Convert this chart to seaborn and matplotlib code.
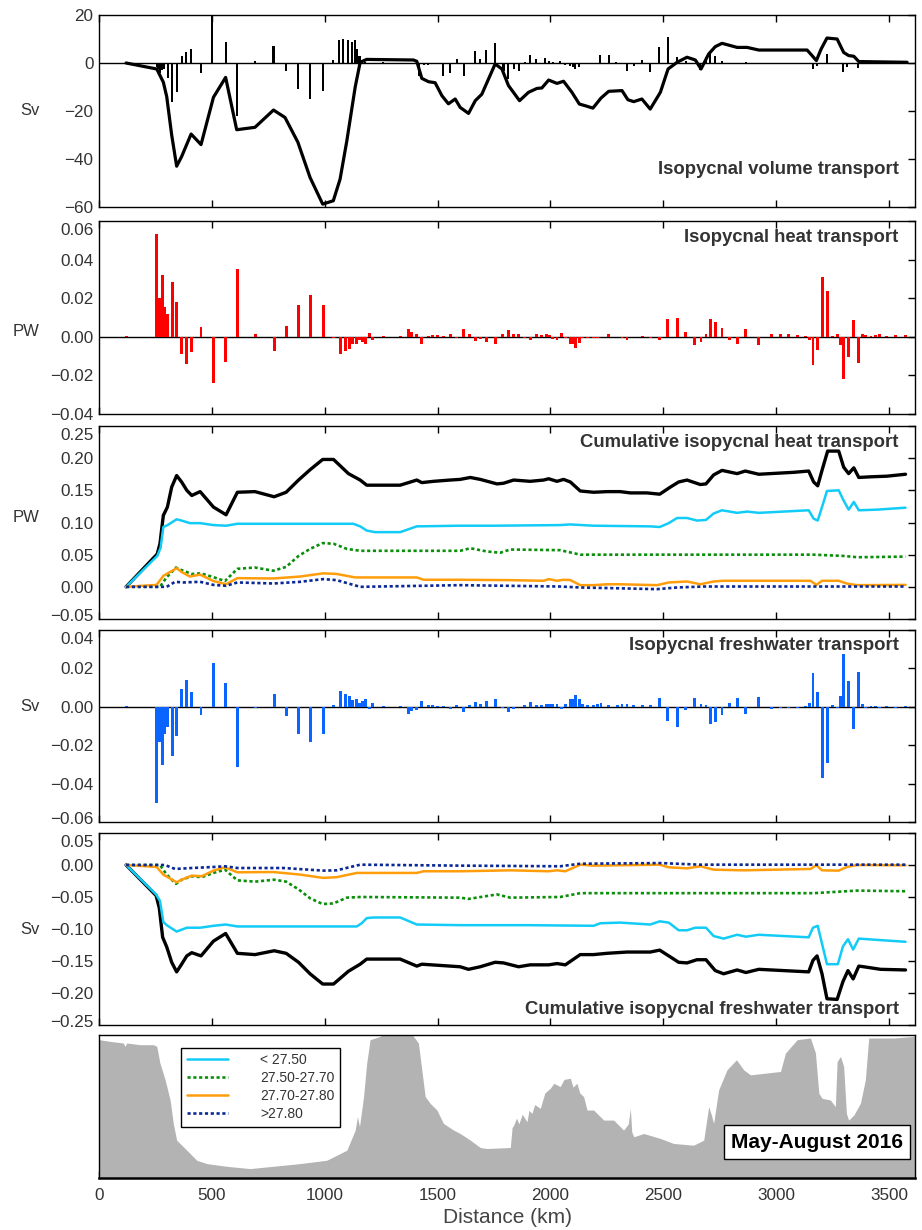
import numpy as np
import pandas as pd
import seaborn as sns
import matplotlib
matplotlib.use("Agg")
import matplotlib.pyplot as plt
from matplotlib.lines import Line2D
import matplotlib.transforms as mtransforms

# ---------------- data ----------------
# Panel 1: isopycnal volume transport (Sv)
vol_bar_km = [255, 263, 270, 279, 288, 304, 325, 344, 366, 386, 408, 452, 502, 561, 610, 691, 773, 827, 881, 935,
              991, 1038, 1065, 1083, 1102, 1120, 1135, 1145, 1154, 1165, 1180, 1260, 1418, 1440, 1457, 1475, 1526,
              1556, 1585, 1615, 1667, 1689, 1715, 1755, 1792, 1814, 1837, 1859, 1888, 1910, 1937, 1977, 1992, 2011,
              2043, 2066, 2088, 2100, 2110, 2125, 2145, 2190, 2221, 2258, 2290, 2339, 2368, 2405, 2442, 2479, 2519,
              2561, 2600, 2664, 2691, 2708, 2730, 2760, 2792, 2827, 2866, 2923, 3163, 3181, 3225, 3296, 3314, 3363]
vol_bar_sv = [-1.5, -2.5, -4.0, -3.0, -2.5, -6.4, -16.4, -12.2, 2.8, 4.7, 5.8, -4.3, 19.5, 8.6, -22.0, 0.8, 7.0,
              -3.5, -10.8, -15.2, -11.5, 1.25, 9.7, 10.0, 9.7, 8.6, 9.6, 5.8, 3.0, 1.2, 0.5, 0.3, -5.3, -0.8, -0.8,
              -0.5, -5.6, -4.2, 1.8, -5.6, 4.9, 1.7, 5.4, 8.3, -3.2, -6.7, -2.5, -3.5, 0.6, 3.3, 1.7, 2.1, 1.0, 0.4,
              0.8, -0.8, -1.2, -1.5, -2.5, -1.8, -0.6, -0.4, 3.3, 3.3, 0.4, -3.2, -1.1, 1.25, -3.9, 6.5, 11.0, 2.4,
              0.8, -2.8, 2.4, 3.75, 3.1, 1.0, -0.4, -0.4, 0.5, -0.4, -2.5, -1.1, 3.75, -3.9, -1.8, -2.2]
vol_cum_km = [120, 256, 285, 300, 322, 344, 366, 408, 452, 507, 561, 610, 691, 773, 824, 881, 935, 991, 1038, 1068,
              1098, 1135, 1157, 1186, 1393, 1408, 1430, 1460, 1489, 1519, 1548, 1578, 1600, 1637, 1667, 1696, 1755,
              1785, 1814, 1863, 1903, 1940, 1962, 1992, 2029, 2058, 2095, 2128, 2154, 2188, 2224, 2258, 2317, 2343,
              2369, 2405, 2442, 2487, 2521, 2561, 2605, 2642, 2667, 2701, 2730, 2760, 2827, 2871, 2923, 3137, 3159,
              3178, 3199, 3225, 3270, 3299, 3321, 3344, 3366, 3580]
vol_cum_sv = [0.0, -2.5, -8.0, -14.0, -30.0, -43.0, -39.0, -29.6, -34.0, -14.3, -6.0, -27.8, -26.8, -19.6, -22.7,
              -33.0, -47.7, -58.8, -57.4, -48.4, -32.4, -10.0, 0.3, 1.5, 1.25, 0.7, -6.4, -7.8, -8.2, -13.6, -17.0,
              -15.0, -18.5, -21.0, -15.7, -13.0, -0.4, -2.5, -9.4, -15.7, -12.2, -10.6, -10.4, -7.1, -8.5, -7.6,
              -12.2, -17.1, -17.8, -18.8, -14.6, -11.8, -11.5, -15.3, -16.1, -15.0, -19.2, -12.2, -2.5, 0.3, 2.4,
              1.25, -2.5, 3.75, 6.8, 8.2, 6.5, 6.5, 5.4, 5.4, 3.1, 1.0, 5.8, 10.4, 10.0, 4.4, 3.1, 2.8, 0.6, 0.3]

# Stations shared by heat and freshwater bars
stn_km = [120, 254, 267, 281, 291, 304, 325, 344, 366, 386, 411, 452, 507, 560, 613, 694, 776, 829, 884, 935, 994,
          1039, 1068, 1090, 1108, 1124, 1139, 1154, 1167, 1182, 1197, 1213, 1260, 1334, 1371, 1386, 1405, 1430,
          1460, 1479, 1500, 1526, 1556, 1585, 1615, 1642, 1667, 1692, 1716, 1755, 1789, 1814, 1837, 1859, 1884,
          1910, 1937, 1962, 1981, 1996, 2011, 2029, 2048, 2066, 2088, 2103, 2113, 2128, 2143, 2165, 2191, 2210,
          2224, 2258, 2295, 2317, 2339, 2368, 2408, 2442, 2482, 2519, 2561, 2599, 2639, 2667, 2689, 2711, 2733,
          2760, 2792, 2827, 2866, 2923, 2979, 3019, 3056, 3093, 3129, 3149, 3163, 3184, 3206, 3228, 3251, 3273,
          3285, 3299, 3321, 3344, 3363, 3381, 3396, 3420, 3440, 3459, 3490, 3530, 3573]
# Panel 2: isopycnal heat transport (PW)
heat_pw = [0.0003, 0.0533, 0.0199, 0.0321, 0.0152, 0.0117, 0.0283, 0.0178, -0.0089, -0.0140, -0.0080, 0.0052,
           -0.0241, -0.0128, 0.0353, 0.0017, -0.0075, 0.0058, 0.0164, 0.0217, 0.0164, -0.0005, -0.0089, -0.0072,
           -0.0061, -0.0037, -0.0037, -0.0019, -0.0028, -0.0035, 0.0021, -0.0016, 0.0002, 0.0002, 0.0042, 0.0026,
           0.0017, -0.0038, 0.0005, 0.0009, 0.0009, 0.0005, 0.0017, -0.0005, 0.0042, 0.0012, -0.0023, -0.0009,
           -0.0028, -0.0035, 0.0012, 0.0033, 0.0016, 0.0012, -0.0005, -0.0016, 0.0012, 0.0007, 0.0017, 0.0009,
           -0.0010, -0.0014, 0.0021, -0.0005, -0.0037, -0.0037, -0.0058, -0.0031, -0.0005, -0.0005, -0.0005,
           -0.0008, -0.0003, 0.0016, -0.0002, -0.0005, -0.0017, -0.0002, 0.0002, -0.0005, -0.0014, 0.0094, 0.0100,
           0.0026, -0.0040, -0.0026, 0.0017, 0.0094, 0.0079, 0.0044, -0.0017, -0.0037, 0.0038, -0.0040, 0.0016,
           0.0012, 0.0012, 0.0009, 0.0005, -0.0014, -0.0145, -0.0066, 0.0309, 0.0239, 0.0002, 0.0012, -0.0040,
           -0.0220, -0.0105, 0.0089, -0.0136, 0.0012, 0.0009, 0.0005, 0.0007, 0.0016, 0.0005, 0.0009, 0.0007]
# Panel 4: isopycnal freshwater transport (Sv)
fw_sv = [0.0005, -0.0499, -0.0183, -0.0303, -0.0140, -0.0106, -0.0256, -0.0152, 0.0091, 0.0140, 0.0079, -0.0043,
         0.0227, 0.0125, -0.0315, -0.0007, 0.0068, -0.0046, -0.0140, -0.0183, -0.0140, 0.0007, 0.0082, 0.0068,
         0.0056, 0.0036, 0.0039, 0.0022, 0.0031, 0.0043, -0.0012, 0.0021, 0.0002, 0.0002, -0.0038, -0.0024,
         -0.0015, 0.0031, 0.0007, 0.0007, 0.0005, 0.0004, -0.0012, 0.0010, -0.0029, 0.0007, 0.0027, 0.0017,
         0.0031, 0.0043, -0.0005, -0.0029, -0.0012, -0.0002, 0.0010, 0.0026, 0.0009, 0.0010, 0.0014, 0.0017,
         0.0017, 0.0017, -0.0012, 0.0014, 0.0043, 0.0043, 0.0060, 0.0039, 0.0014, 0.0009, 0.0010, 0.0014, 0.0020,
         0.0007, 0.0010, 0.0017, 0.0012, 0.0007, 0.0007, 0.0007, 0.0048, -0.0072, -0.0106, -0.0017, 0.0048,
         0.0017, 0.0010, -0.0092, -0.0080, -0.0041, 0.0022, 0.0048, -0.0038, 0.0053, -0.0012, -0.0007, -0.0007,
         -0.0007, 0.0002, 0.0022, 0.0176, 0.0077, -0.0371, -0.0294, 0.0007, -0.0007, 0.0056, 0.0275, 0.0133,
         -0.0118, 0.0179, 0.0014, -0.0007, 0.0004, 0.0004, -0.0007, 0.0002, -0.0007, 0.0003]

# Panel 3: cumulative isopycnal heat transport (PW)
cheat_tot_km = [120, 258, 270, 285, 303, 322, 344, 366, 389, 411, 448, 507, 563, 613, 691, 776, 829, 884, 935, 991,
                1039, 1105, 1157, 1186, 1334, 1408, 1430, 1482, 1556, 1600, 1645, 1689, 1763, 1792, 1837, 1910,
                1970, 1992, 2029, 2058, 2088, 2132, 2191, 2250, 2309, 2354, 2428, 2484, 2531, 2568, 2605, 2664,
                2689, 2723, 2760, 2827, 2863, 2923, 3078, 3144, 3166, 3184, 3203, 3228, 3277, 3299, 3321, 3344,
                3366, 3418, 3491, 3573]
cheat_tot = [0.0, 0.051, 0.067, 0.111, 0.124, 0.155, 0.173, 0.163, 0.150, 0.142, 0.148, 0.124, 0.112, 0.147, 0.148,
             0.140, 0.147, 0.166, 0.182, 0.198, 0.198, 0.176, 0.166, 0.158, 0.158, 0.166, 0.162, 0.164, 0.166,
             0.167, 0.170, 0.167, 0.160, 0.161, 0.166, 0.164, 0.166, 0.168, 0.164, 0.167, 0.163, 0.149, 0.147,
             0.148, 0.148, 0.146, 0.146, 0.144, 0.155, 0.163, 0.166, 0.159, 0.160, 0.174, 0.181, 0.176, 0.180,
             0.175, 0.178, 0.180, 0.163, 0.157, 0.181, 0.211, 0.211, 0.186, 0.176, 0.185, 0.170, 0.171, 0.172,
             0.175]
cheat_c1_km = [120, 258, 273, 285, 304, 344, 366, 403, 448, 507, 563, 613, 743, 1127, 1157, 1186, 1223, 1334, 1408,
               1600, 1750, 2043, 2088, 2191, 2442, 2484, 2524, 2561, 2605, 2649, 2689, 2723, 2760, 2827, 2871,
               2923, 3144, 3166, 3184, 3203, 3225, 3277, 3299, 3321, 3344, 3366, 3447, 3573]
cheat_c1 = [0.0, 0.048, 0.061, 0.093, 0.096, 0.105, 0.103, 0.099, 0.099, 0.096, 0.095, 0.098, 0.098, 0.098, 0.094,
            0.0875, 0.085, 0.085, 0.094, 0.095, 0.095, 0.096, 0.097, 0.095, 0.094, 0.093, 0.099, 0.107, 0.107,
            0.103, 0.104, 0.114, 0.119, 0.115, 0.117, 0.115, 0.119, 0.106, 0.103, 0.124, 0.149, 0.150, 0.134,
            0.120, 0.132, 0.119, 0.120, 0.123]
cheat_c2_km = [120, 270, 300, 341, 366, 411, 452, 507, 558, 613, 691, 773, 829, 884, 935, 991, 1039, 1098, 1157,
               1600, 1645, 1718, 1777, 1822, 2043, 2132, 3166, 3299, 3359, 3573]
cheat_c2 = [0.0, 0.0, 0.015, 0.030, 0.026, 0.020, 0.021, 0.015, 0.009, 0.028, 0.030, 0.025, 0.031, 0.048, 0.059,
            0.068, 0.067, 0.059, 0.056, 0.056, 0.060, 0.055, 0.053, 0.058, 0.057, 0.050, 0.050, 0.048, 0.046,
            0.047]
cheat_c3_km = [120, 255, 285, 344, 366, 403, 448, 507, 563, 613, 773, 891, 994, 1053, 1135, 1408, 1438, 1600, 1822,
               1970, 1992, 2029, 2058, 2088, 2132, 2191, 2250, 2309, 2472, 2524, 2605, 2664, 2723, 2767, 3152,
               3178, 3203, 3277, 3314, 3359, 3573]
cheat_c3 = [0.0, 0.003, 0.017, 0.029, 0.023, 0.016, 0.019, 0.009, 0.004, 0.0135, 0.013, 0.016, 0.021, 0.020,
            0.0146, 0.0146, 0.011, 0.011, 0.0104, 0.0094, 0.012, 0.0094, 0.011, 0.0105, 0.0026, 0.0026, 0.004,
            0.004, 0.0026, 0.0068, 0.0083, 0.004, 0.0083, 0.0094, 0.0094, 0.003, 0.0094, 0.0094, 0.005, 0.0026,
            0.003]
cheat_c4_km = [120, 300, 337, 374, 448, 507, 563, 613, 773, 891, 994, 1053, 1157, 1600, 2043, 2132, 2265, 2472,
               2561, 2679, 3573]
cheat_c4 = [0.0, 0.0, 0.0078, 0.0068, 0.0078, 0.003, 0.0016, 0.0068, 0.0052, 0.0078, 0.012, 0.0104, 0.0, 0.0026,
            0.0005, -0.001, -0.002, -0.0036, -0.001, 0.0005, 0.0005]

# Panel 5: cumulative isopycnal freshwater transport (Sv)
cfw_tot_km = [120, 253, 267, 282, 300, 322, 344, 366, 389, 411, 452, 507, 561, 613, 691, 776, 829, 884, 935, 991,
              1039, 1105, 1157, 1186, 1334, 1408, 1430, 1600, 1637, 1689, 1755, 1792, 1859, 1910, 1992, 2029, 2066,
              2103, 2132, 2191, 2250, 2339, 2442, 2484, 2524, 2568, 2605, 2649, 2689, 2730, 2767, 2827, 2866, 2923,
              3144, 3163, 3181, 3203, 3225, 3270, 3296, 3318, 3341, 3366, 3388, 3462, 3573]
cfw_tot = [0.0, -0.0477, -0.067, -0.113, -0.128, -0.152, -0.167, -0.155, -0.142, -0.137, -0.142, -0.119, -0.107,
           -0.138, -0.140, -0.134, -0.138, -0.152, -0.170, -0.186, -0.186, -0.166, -0.155, -0.147, -0.147, -0.158,
           -0.155, -0.159, -0.163, -0.159, -0.152, -0.153, -0.159, -0.156, -0.156, -0.154, -0.156, -0.147, -0.140,
           -0.140, -0.138, -0.136, -0.136, -0.133, -0.142, -0.152, -0.153, -0.148, -0.148, -0.165, -0.170, -0.164,
           -0.168, -0.163, -0.167, -0.149, -0.142, -0.170, -0.209, -0.210, -0.182, -0.165, -0.178, -0.158, -0.159,
           -0.163, -0.164]
cfw_c1_km = [120, 253, 270, 285, 300, 344, 389, 448, 507, 561, 613, 1142, 1164, 1186, 1216, 1334, 1408, 1600, 1900,
             2191, 2221, 2309, 2442, 2484, 2524, 2568, 2605, 2642, 2689, 2723, 2767, 2827, 2866, 2923, 3144, 3163,
             3184, 3225, 3273, 3296, 3318, 3341, 3366, 3447, 3573]
cfw_c1 = [0.0, -0.046, -0.056, -0.089, -0.094, -0.104, -0.098, -0.098, -0.095, -0.093, -0.096, -0.096, -0.091,
          -0.083, -0.082, -0.082, -0.093, -0.094, -0.094, -0.095, -0.091, -0.090, -0.093, -0.088, -0.090, -0.102,
          -0.102, -0.098, -0.098, -0.111, -0.115, -0.109, -0.112, -0.109, -0.113, -0.098, -0.095, -0.155, -0.155,
          -0.127, -0.116, -0.132, -0.115, -0.117, -0.120]
cfw_c2_km = [120, 270, 300, 341, 366, 411, 455, 507, 558, 613, 691, 776, 829, 884, 935, 991, 1039, 1098, 1157, 1600,
             1637, 1763, 1822, 2043, 2132, 3166, 3359, 3573]
cfw_c2 = [0.0, 0.0, -0.015, -0.0295, -0.023, -0.0176, -0.019, -0.0124, -0.0073, -0.024, -0.026, -0.023, -0.026,
          -0.038, -0.052, -0.061, -0.060, -0.051, -0.050, -0.051, -0.053, -0.046, -0.051, -0.050, -0.044, -0.044,
          -0.040, -0.041]
cfw_c3_km = [120, 255, 285, 344, 366, 411, 455, 507, 558, 613, 773, 891, 994, 1053, 1142, 1408, 1438, 1600, 1822,
             1992, 2029, 2066, 2132, 2191, 2484, 2524, 2605, 2664, 2723, 2856, 3152, 3178, 3203, 3277, 3314, 3359,
             3573]
cfw_c3 = [0.0, -0.003, -0.015, -0.027, -0.023, -0.0166, -0.0176, -0.0088, -0.0036, -0.0114, -0.011, -0.015,
          -0.0202, -0.019, -0.0124, -0.0124, -0.0098, -0.0098, -0.0083, -0.0098, -0.0083, -0.0098, 0.0005, -0.001,
          0.0005, -0.0036, -0.0052, -0.002, -0.0073, -0.0083, -0.0062, -0.0005, -0.0083, -0.0088, -0.003, 0.0,
          -0.0005]
cfw_c4_km = [120, 292, 337, 411, 507, 558, 613, 817, 994, 1053, 1157, 1600, 2043, 2132, 2487, 2664, 3573]
cfw_c4 = [0.0, 0.0, -0.0062, -0.0047, -0.0031, -0.002, -0.0047, -0.0047, -0.0088, -0.0083, 0.0005, -0.001, -0.002,
          0.002, 0.003, 0.0005, 0.0005]

# Panel 6: bottom depth along the section (m)
bathy_km = [0, 49, 108, 115, 123, 182, 241, 256, 270, 293, 315, 329, 344, 389, 433, 477, 566, 669, 743, 891, 1009,
            1098, 1135, 1145, 1154, 1172, 1186, 1201, 1246, 1280, 1334, 1380, 1393, 1415, 1430, 1445, 1467, 1497,
            1526, 1571, 1600, 1645, 1689, 1718, 1822, 1830, 1837, 1850, 1860, 1875, 1896, 1905, 1918, 1930, 1955,
            1975, 1999, 2015, 2043, 2060, 2088, 2100, 2117, 2130, 2147, 2162, 2191, 2236, 2280, 2324, 2345, 2354,
            2360, 2369, 2413, 2487, 2546, 2634, 2679, 2701, 2712, 2723, 2745, 2782, 2824, 2856, 2886, 3019, 3041,
            3093, 3152, 3174, 3189, 3203, 3240, 3262, 3270, 3285, 3299, 3311, 3321, 3344, 3373, 3395, 3410, 3521,
            3615]
bathy_m = [120, 165, 208, 295, 208, 251, 251, 295, 728, 1161, 1681, 2288, 2721, 2981, 3241, 3327, 3397, 3457,
           3414, 3327, 3241, 2981, 2461, 2114, 2374, 1594, 728, 121, 35, -150, -150, -50, 35, 208, 901, 1594, 1768,
           1941, 2288, 2461, 2548, 2721, 2911, 2937, 2911, 2400, 2331, 2150, 2300, 2050, 2244, 1950, 2028, 1800,
           1898, 1500, 1378, 1250, 1334, 1150, 1118, 1350, 1248, 1500, 1594, 1941, 1941, 2201, 2201, 2461, 2300,
           1900, 2500, 2634, 2548, 2677, 2807, 2851, 2721, 1854, 2050, 2288, 1421, 901, 641, 901, 1031, 944, 468,
           121, 78, 468, 1508, 1638, 1681, 1854, 685, 555, 815, 2028, 2201, 2071, 1768, 1161, 78, 78, 35]

layer_labels = ["< 27.50", "27.50-27.70", "27.70-27.80", ">27.80"]
titles = ["Isopycnal volume transport", "Isopycnal heat transport", "Cumulative isopycnal heat transport",
          "Isopycnal freshwater transport", "Cumulative isopycnal freshwater transport"]
units = ["Sv", "PW", "PW", "Sv", "Sv"]
x_ticks = [0, 500, 1000, 1500, 2000, 2500, 3000, 3500]
y_ticks = [[-60, -40, -20, 0, 20],
           [-0.04, -0.02, 0.0, 0.02, 0.04, 0.06],
           [-0.05, 0.0, 0.05, 0.10, 0.15, 0.20, 0.25],
           [-0.06, -0.04, -0.02, 0.0, 0.02, 0.04],
           [-0.25, -0.20, -0.15, -0.10, -0.05, 0.0, 0.05]]
period_label = "May-August 2016"

# ---------------- style ----------------
sns.set_theme(style="ticks")
plt.rcParams["font.family"] = ["Liberation Sans", "DejaVu Sans"]
plt.rcParams["axes.unicode_minus"] = True

C_CYAN = "#12ccf7"
C_GREEN = "#0a8f0a"
C_ORANGE = "#ff9d0a"
C_NAVY = "#0a2896"
C_RED = "#ff0000"
C_BLUE = "#0a64ff"
TXT = "#333333"
DOT = (0, (1.2, 1.0))

fig = plt.figure(figsize=(9.22, 12.30), dpi=100)
FW, FH = 922.0, 1230.0
rows = [(15, 207), (221, 414), (426, 619), (630, 822), (833, 1025), (1035, 1178)]
L0, R0 = 99, 915
axes = [fig.add_axes([L0 / FW, 1 - b / FH, (R0 - L0) / FW, (b - t) / FH]) for t, b in rows]
XMAX = 3615

# Panel 1
ax = axes[0]
ax.bar(vol_bar_km, vol_bar_sv, width=9, color="black", lw=0, zorder=2)
sns.lineplot(x=vol_cum_km, y=vol_cum_sv, ax=ax, color="black", lw=2.3, estimator=None, sort=False, zorder=3)
ax.set_ylim(-60, 20)

# Panel 2
ax = axes[1]
ax.bar(stn_km, heat_pw, width=13, color=C_RED, lw=0, zorder=2)
ax.set_ylim(-0.04, 0.06)

# Panel 3
ax = axes[2]
sns.lineplot(x=cheat_tot_km, y=cheat_tot, ax=ax, color="black", lw=2.4, estimator=None, sort=False)
sns.lineplot(x=cheat_c1_km, y=cheat_c1, ax=ax, color=C_CYAN, lw=1.8, estimator=None, sort=False)
sns.lineplot(x=cheat_c2_km, y=cheat_c2, ax=ax, color=C_GREEN, lw=1.9, linestyle=DOT, estimator=None, sort=False)
sns.lineplot(x=cheat_c3_km, y=cheat_c3, ax=ax, color=C_ORANGE, lw=1.8, estimator=None, sort=False)
sns.lineplot(x=cheat_c4_km, y=cheat_c4, ax=ax, color=C_NAVY, lw=1.9, linestyle=DOT, estimator=None, sort=False)
ax.set_ylim(-0.05, 0.25)

# Panel 4
ax = axes[3]
ax.bar(stn_km, fw_sv, width=13, color=C_BLUE, lw=0, zorder=2)
ax.set_ylim(-0.06, 0.04)

# Panel 5
ax = axes[4]
sns.lineplot(x=cfw_tot_km, y=cfw_tot, ax=ax, color="black", lw=2.4, estimator=None, sort=False)
sns.lineplot(x=cfw_c1_km, y=cfw_c1, ax=ax, color=C_CYAN, lw=1.8, estimator=None, sort=False)
sns.lineplot(x=cfw_c2_km, y=cfw_c2, ax=ax, color=C_GREEN, lw=1.9, linestyle=DOT, estimator=None, sort=False)
sns.lineplot(x=cfw_c3_km, y=cfw_c3, ax=ax, color=C_ORANGE, lw=1.8, estimator=None, sort=False)
sns.lineplot(x=cfw_c4_km, y=cfw_c4, ax=ax, color=C_NAVY, lw=1.9, linestyle=DOT, estimator=None, sort=False)
ax.set_ylim(-0.25, 0.05)

# zero lines
for i in (0, 1, 3):
    axes[i].axhline(0, color="black", lw=1.0, zorder=1)

title_y = [0.197, 0.912, 0.917, 0.917, 0.081]
label_pos = [(-0.0846, 0.505), (-0.0895, 0.43), (-0.0895, 0.528), (-0.0846, 0.604), (-0.0846, 0.495)]


def fmt(v, dec):
    s = f"{v:.{dec}f}"
    if s.startswith("-"):
        s = "\u2212" + s[1:]
    return s


for i in range(5):
    ax = axes[i]
    ax.set_xlim(0, XMAX)
    ax.set_xticks(x_ticks)
    ax.set_xlabel("")
    ax.tick_params(axis="x", direction="in", top=True, bottom=True, labelbottom=False,
                   length=5, width=1, color="black")
    dec = 0 if i == 0 else 2
    ax.set_yticks(y_ticks[i])
    ax.set_yticklabels([fmt(v, dec) for v in y_ticks[i]])
    ax.tick_params(axis="y", direction="in", left=False, right=True, labelleft=True, labelright=False,
                   length=5, width=1, pad=4, labelsize=12.3, labelcolor=TXT, color="black")
    for s in ax.spines.values():
        s.set_linewidth(1.0)
        s.set_color("black")
    ax.set_ylabel(units[i], rotation=0, fontsize=12, color=TXT, ha="center", va="center")
    ax.yaxis.set_label_coords(*label_pos[i])
    ax.text(0.980, title_y[i], titles[i], transform=ax.transAxes, ha="right", va="center",
            fontsize=13.3, fontweight="bold", color=TXT, zorder=5)

# nudge end tick labels like the original
def shift_label(ax, idx, dy_px):
    tk = ax.yaxis.get_major_ticks()[idx]
    off = mtransforms.ScaledTranslation(0, dy_px / 100.0, fig.dpi_scale_trans)
    tk.label1.set_transform(tk.label1.get_transform() + off)

for i in (1, 2, 3, 4):
    shift_label(axes[i], -1, -8)
for i in (2, 3, 4):
    shift_label(axes[i], 0, 4)

# Panel 6: bathymetry
ax = axes[5]
ax.fill_between(bathy_km, bathy_m, 3700, color="#b3b3b3", lw=0, zorder=1)
ax.set_xlim(0, XMAX)
ax.set_ylim(3700, 0)
ax.set_yticks([])
ax.set_xticks(x_ticks)
ax.set_xticklabels([str(v) for v in x_ticks])
ax.tick_params(axis="x", direction="in", top=False, bottom=True, length=5, width=1, pad=7,
               labelsize=12.3, labelcolor=TXT, color="black")
for s in ax.spines.values():
    s.set_linewidth(1.0)
    s.set_color("black")
ax.spines["bottom"].set_linewidth(1.8)
ax.set_xlabel("Distance (km)", fontsize=15, color="#444444", labelpad=4)

handles = [Line2D([], [], color=C_CYAN, lw=1.8),
           Line2D([], [], color=C_GREEN, lw=1.9, linestyle=DOT),
           Line2D([], [], color=C_ORANGE, lw=1.8),
           Line2D([], [], color=C_NAVY, lw=1.9, linestyle=DOT)]
leg = ax.legend(handles, layer_labels, loc="upper left", bbox_to_anchor=(0.1005, 0.911), frameon=True,
                fancybox=False, edgecolor="black", framealpha=1, facecolor="white", fontsize=10,
                handlelength=3.0, handletextpad=2.3, labelspacing=0.28, borderpad=0.4, borderaxespad=0)
leg.get_frame().set_linewidth(1.0)
for t in leg.get_texts():
    t.set_color(TXT)

ax.text(0.88, 0.251, period_label, transform=ax.transAxes, ha="center", va="center", fontsize=15,
        fontweight="bold", color="black", zorder=6,
        bbox=dict(boxstyle="square,pad=0.35", facecolor="white", edgecolor="black", linewidth=1.0))

fig.savefig("out.png", dpi=100)
